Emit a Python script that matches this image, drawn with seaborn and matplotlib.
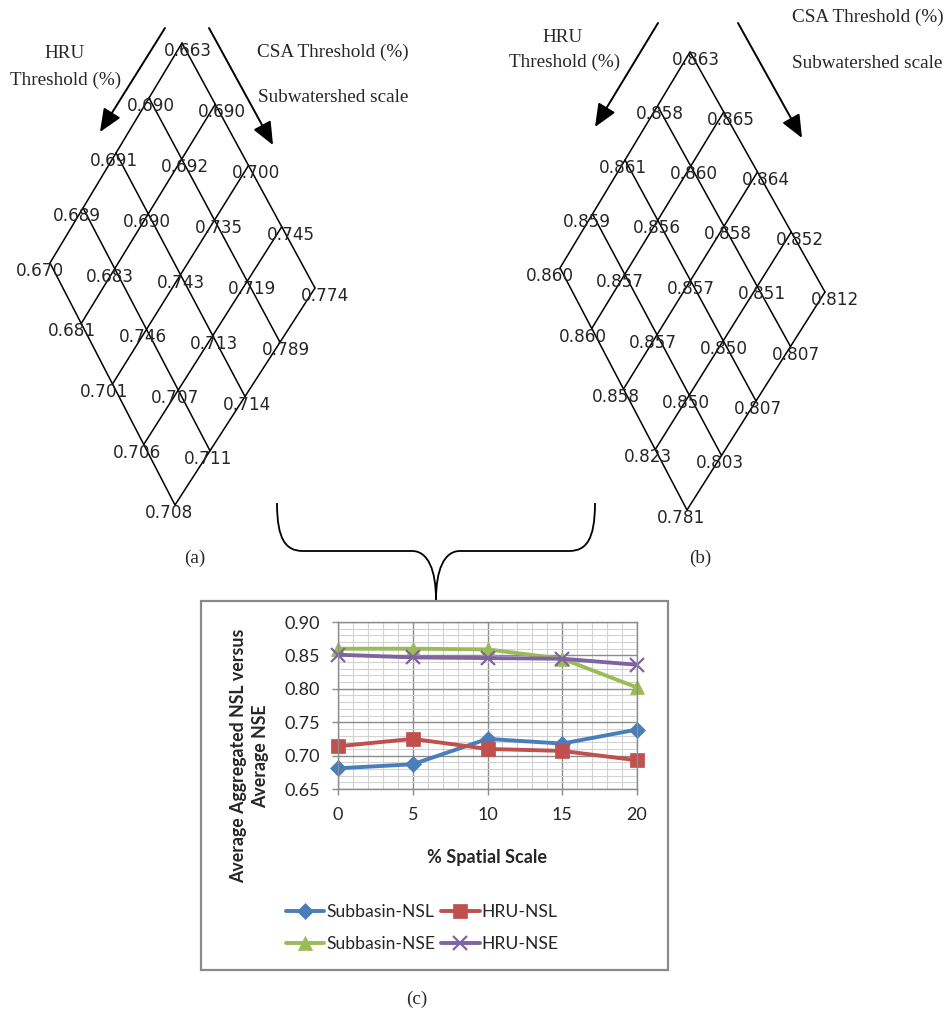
import numpy as np
import pandas as pd
import matplotlib
matplotlib.use("Agg")
import matplotlib.pyplot as plt
import seaborn as sns
from matplotlib.path import Path
from matplotlib.patches import PathPatch, Rectangle
from matplotlib.lines import Line2D

sns.set_theme(style="white")
plt.rcParams["font.family"] = ["Lato", "DejaVu Sans"]

# (a) NSL and (b) NSE values: rows = HRU threshold step, cols = CSA threshold step
nsl_grid = [
    [0.663, 0.690, 0.700, 0.745, 0.774],
    [0.690, 0.692, 0.735, 0.719, 0.789],
    [0.691, 0.690, 0.743, 0.713, 0.714],
    [0.689, 0.683, 0.746, 0.707, 0.711],
    [0.670, 0.681, 0.701, 0.706, 0.708],
]
nse_grid = [
    [0.863, 0.865, 0.864, 0.852, 0.812],
    [0.858, 0.860, 0.858, 0.851, 0.807],
    [0.861, 0.856, 0.857, 0.850, 0.807],
    [0.859, 0.857, 0.857, 0.850, 0.803],
    [0.860, 0.860, 0.858, 0.823, 0.781],
]

# (c) averaged series
spatial_scale = [0, 5, 10, 15, 20]
subbasin_nsl = [0.681, 0.687, 0.725, 0.718, 0.739]
hru_nsl = [0.714, 0.725, 0.710, 0.707, 0.693]
subbasin_nse = [0.860, 0.860, 0.859, 0.845, 0.802]
hru_nse = [0.851, 0.847, 0.846, 0.845, 0.836]
series_names = ["Subbasin-NSL", "HRU-NSL", "Subbasin-NSE", "HRU-NSE"]
y_ticks = [0.65, 0.70, 0.75, 0.80, 0.85, 0.90]

palette = {"Subbasin-NSL": "#4a7ebb", "HRU-NSL": "#c0504d",
           "Subbasin-NSE": "#9bbb59", "HRU-NSE": "#8064a2"}
markers = {"Subbasin-NSL": "D", "HRU-NSL": "s",
           "Subbasin-NSE": "^", "HRU-NSE": "x"}
msizes = {"Subbasin-NSL": 8.5, "HRU-NSL": 9.5, "Subbasin-NSE": 9.5, "HRU-NSE": 9.5}

df = pd.DataFrame({
    "scale": spatial_scale * 4,
    "value": subbasin_nsl + hru_nsl + subbasin_nse + hru_nse,
    "series": np.repeat(series_names, len(spatial_scale)),
})

W, H = 948, 1010
fig = plt.figure(figsize=(W / 100, H / 100), dpi=100)

# overlay in pixel coordinates for the diamonds, arrows and brace
ov = fig.add_axes([0, 0, 1, 1])
ov.set_xlim(0, W)
ov.set_ylim(H, 0)
ov.axis("off")

serif = "Liberation Serif"
num_font = "DejaVu Sans"


def draw_diamond(grid, top, left, right, bottom):
    g = np.array(grid)
    i, j = np.indices(g.shape)
    u, v = i / 4.0, j / 4.0
    corners = np.array([top, left, right, bottom], dtype=float)
    px = ((1 - u) * (1 - v))[..., None] * corners[0] + (u * (1 - v))[..., None] * corners[1] \
        + ((1 - u) * v)[..., None] * corners[2] + (u * v)[..., None] * corners[3]
    for k in range(5):
        ov.plot(px[k, :, 0], px[k, :, 1], color="black", lw=1.1)
        ov.plot(px[:, k, 0], px[:, k, 1], color="black", lw=1.1)
    for a in range(5):
        for b in range(5):
            dx = 2.5 * (b - a) + 3 * (2 - (a + b) / 2)
            ov.text(px[a, b, 0] + dx, px[a, b, 1] + 8, f"{g[a, b]:.3f}",
                    ha="center", va="center", fontsize=12.2, family=num_font)


def arrow(tail, head):
    ov.annotate("", xy=head, xytext=tail,
                arrowprops=dict(arrowstyle="-|>,head_length=0.7,head_width=0.3",
                                lw=1.4, color="black", shrinkA=0, shrinkB=0,
                                mutation_scale=20))


# panel (a)
draw_diamond(nsl_grid, (182, 43), (50, 263), (315, 288), (175, 505))
arrow((165, 28), (100, 132))
arrow((209, 28), (273, 145))
ov.text(65, 53, "HRU", ha="center", va="center", fontsize=13.8, family=serif)
ov.text(66, 80, "Threshold (%)", ha="center", va="center", fontsize=13.8, family=serif)
ov.text(257, 52, "CSA Threshold (%)", ha="left", va="center", fontsize=13.8, family=serif)
ov.text(258, 97, "Subwatershed scale", ha="left", va="center", fontsize=13.8, family=serif)
ov.text(195, 558, "(a)", ha="center", va="center", fontsize=13.8, family=serif)

# panel (b)
draw_diamond(nse_grid, (690, 52), (560, 268), (825, 292), (687, 510))
arrow((658, 23), (595, 127))
arrow((738, 23), (802, 138))
ov.text(563, 38, "HRU", ha="center", va="center", fontsize=13.8, family=serif)
ov.text(565, 62, "Threshold (%)", ha="center", va="center", fontsize=13.8, family=serif)
ov.text(792, 17, "CSA Threshold (%)", ha="left", va="center", fontsize=13.8, family=serif)
ov.text(792, 63, "Subwatershed scale", ha="left", va="center", fontsize=13.8, family=serif)
ov.text(700, 558, "(b)", ha="center", va="center", fontsize=13.8, family=serif)

# curly brace joining (a) and (b) to (c)
for side in (-1, 1):
    xe = 436 + side * 159
    verts = [(xe, 503), (xe, 540), (xe - side * 9, 551), (xe - side * 26, 551),
             (436 + side * 24, 551),
             (436 + side * 8, 551), (436, 570), (436, 600)]
    codes = [Path.MOVETO, Path.CURVE4, Path.CURVE4, Path.CURVE4,
             Path.LINETO, Path.CURVE4, Path.CURVE4, Path.CURVE4]
    ov.add_patch(PathPatch(Path(verts, codes), fill=False, lw=1.3, ec="black"))

# box around (c)
ov.add_patch(Rectangle((201, 601), 467, 369, fill=False, ec="#8a8a8a", lw=1.6))
ov.text(417, 999, "(c)", ha="center", va="center", fontsize=13.8, family=serif)

# panel (c) chart
ax = fig.add_axes([338 / W, 1 - 789 / H, 299 / W, 167 / H])
for name in series_names:
    sub = df[df["series"] == name]
    sns.lineplot(data=sub, x="scale", y="value", color=palette[name],
                 marker=markers[name], markersize=msizes[name],
                 mec=palette[name], mfc=palette[name],
                 mew=1.6 if name == "HRU-NSE" else 0.5,
                 lw=2.8, legend=False, ax=ax)
for line in ax.lines:
    line.set_clip_on(False)

ax.set_xlim(0, 20)
ax.set_ylim(0.65, 0.90)
ax.set_xticks(spatial_scale)
ax.set_xticks(range(0, 21), minor=True)
ax.set_yticks(y_ticks)
ax.set_yticklabels([f"{t:.2f}" for t in y_ticks])
ax.set_yticks(np.arange(0.65, 0.9001, 0.01), minor=True)
ax.grid(which="major", color="#8c8c8c", lw=1.0)
ax.grid(which="minor", color="#d2d2d2", lw=0.8)
ax.set_axisbelow(True)
ax.tick_params(which="minor", length=0)
ax.tick_params(which="major", direction="out", length=4, width=1, color="#8c8c8c",
               labelsize=13, bottom=True, left=True, pad=9)
for s in ax.spines.values():
    s.set_color("#8c8c8c")
    s.set_linewidth(1.0)
ax.set_xlabel("")
ax.set_ylabel("")

fig.text(250 / W, 1 - 756 / H, "Average Aggregated NSL versus\nAverage NSE",
         rotation=90, ha="center", va="center", multialignment="center",
         fontsize=12.8, fontweight="bold", linespacing=1.35)
fig.text(487 / W, 1 - 857 / H, "% Spatial Scale", ha="center", va="center",
         fontsize=13, fontweight="bold")

# legend filled row by row like the original (two columns)
legend_order = ["Subbasin-NSL", "Subbasin-NSE", "HRU-NSL", "HRU-NSE"]
handles = [Line2D([], [], color=palette[n], lw=2.8, marker=markers[n],
                  markersize=msizes[n], mec=palette[n],
                  mew=1.6 if n == "HRU-NSE" else 0.5) for n in legend_order]
ax.legend(handles, legend_order, loc="center", ncol=2, frameon=False,
          bbox_to_anchor=(422 / W, 1 - 928 / H), bbox_transform=fig.transFigure,
          fontsize=12.6, handlelength=2.2, handletextpad=0.1, columnspacing=0.35,
          labelspacing=0.95)

fig.savefig("out.png", dpi=100)
